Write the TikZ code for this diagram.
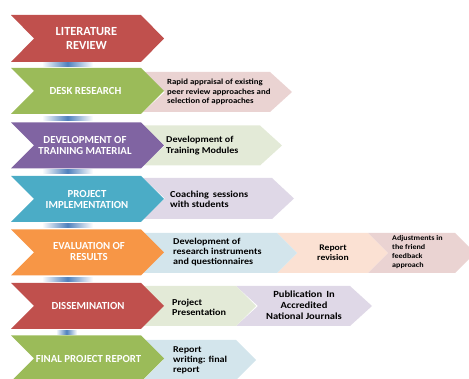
\documentclass[tikz,border=0pt]{standalone}
\usepackage{fontspec}
\setmainfont{Carlito}
\newfontfamily\actfont{Carlito}[FakeStretch=1.12]

\definecolor{stagered}{HTML}{C0504D}
\definecolor{stagegreen}{HTML}{9BBB59}
\definecolor{stagepurple}{HTML}{8064A2}
\definecolor{stagecyan}{HTML}{4BACC6}
\definecolor{stageorange}{HTML}{F79646}
\definecolor{tintred}{HTML}{EAD3D2}
\definecolor{tintgreen}{HTML}{E3EAD7}
\definecolor{tintpurple}{HTML}{DFD8E7}
\definecolor{tintblue}{HTML}{D3E5EC}
\definecolor{tintpeach}{HTML}{FBE1D3}
\definecolor{linkblue}{HTML}{4F81BD}

% chevron: fill, left x, right x, centre y, half height, point depth
\newcommand\chev[6]{%
  \fill[#1] (#2,#4-#5) -- (#3,#4-#5) -- (#3+#6,#4) -- (#3,#4+#5)
    -- (#2,#4+#5) -- (#2+#6,#4) -- cycle;}
% short fading bar linking two stages: left x, right x, centre y
\newcommand\linkbar[3]{%
  \shade[left color=white, right color=white, middle color=linkblue]
    (#1,#3-2) rectangle (#2,#3+2);}
% bold text at a given size and line spacing
\newcommand\fs[2]{\bfseries\fontsize{#1}{#2}\selectfont}
\newcommand\af[2]{\actfont\bfseries\fontsize{#1}{#2}\selectfont}

\begin{document}
\begin{tikzpicture}[x=1pt, y=-1pt,
  stagetext/.style={text=white, font=\fs{10.8}{11},
    align=center, inner sep=0pt},
  steptext/.style={text=black, font=\af{9}{10},
    align=left, anchor=west, inner sep=0pt},
  midtext/.style={text=black, font=\af{9}{10},
    align=center, inner sep=0pt}]
\useasboundingbox (0,0) rectangle (469,379);
\clip (0,0) rectangle (469,379);

% secondary activity chevrons
\chev{tintred}{143}{270}{92}{20}{22}
\chev{tintgreen}{143}{260}{145.5}{20}{22}
\chev{tintpurple}{143}{272}{198.5}{20.5}{22}
\chev{tintpeach}{277}{368}{253}{20}{20}
\chev{tintred}{368}{455}{253}{20}{20}
\chev{tintblue}{143}{277}{253}{20}{20}
\chev{tintpurple}{236}{350}{306}{20}{22}
\chev{tintgreen}{143}{236}{306}{20}{20}
\chev{tintblue}{143}{236}{360}{20}{20}

% links between stages
\linkbar{42}{93}{64.8}
\linkbar{42}{93}{118.3}
\linkbar{42}{93}{172}
\linkbar{42}{93}{225.8}
\linkbar{42}{93}{279.3}
\linkbar{56}{77}{332.5}

% main stage chevrons
\chev{stagered}{11}{141}{38.5}{23.5}{23}
\chev{stagegreen}{11}{141}{91}{23}{23}
\chev{stagepurple}{11}{141}{145.5}{23}{23}
\chev{stagecyan}{11}{141}{199}{23}{23}
\chev{stageorange}{11}{141}{252.5}{23}{23}
\chev{stagered}{11}{141}{306}{23}{23}
\chev{stagegreen}{11}{141}{358.5}{23}{23}

% stage labels
\node[stagetext, font=\fs{12.4}{13.3}] (lit) at (86.5,38.5) {LITERATURE\\REVIEW};
\node[stagetext] (desk) at (85.5,91) {DESK RESEARCH};
\node[stagetext] (train) at (85,145.5) {DEVELOPMENT OF\\TRAINING MATERIAL};
\node[stagetext] (impl) at (87,199) {PROJECT\\IMPLEMENTATION};
\node[stagetext] (eval) at (89,252) {EVALUATION OF\\RESULTS};
\node[stagetext] (diss) at (88,306) {DISSEMINATION};
\node[stagetext] (final) at (88.5,358.5) {FINAL PROJECT REPORT};

% activity labels
\node[steptext, font=\af{7.85}{9.3}] (rapid) at (167,92)
  {Rapid appraisal of existing\\peer review approaches and\\selection of approaches};
\node[steptext, font=\af{9}{10.5}] (modules) at (166,145.7)
  {Development of\\Training Modules};
\node[steptext, font=\af{9.2}{10.3}] (coach) at (170,199)
  {Coaching\, sessions\\with students};
\node[steptext] (instr) at (173,252)
  {Development of\\research instruments\\and questionnaires};
\node[midtext, font=\af{8.6}{10.5}] (revision) at (333,252.5) {Report\\revision};
\node[steptext, font=\af{7.2}{9}] (adjust) at (392,252)
  {Adjustments in\\the friend\\feedback\\approach};
\node[steptext, font=\af{9.1}{10.3}] (present) at (172,307) {Project\\Presentation};
\node[midtext, font=\af{9.4}{10.8}] (publish) at (304,305.5)
  {Publication\, In\\Accredited\\National Journals};
\node[steptext] (writing) at (173,360) {Report\\writing: final\\report};
\end{tikzpicture}
\end{document}
